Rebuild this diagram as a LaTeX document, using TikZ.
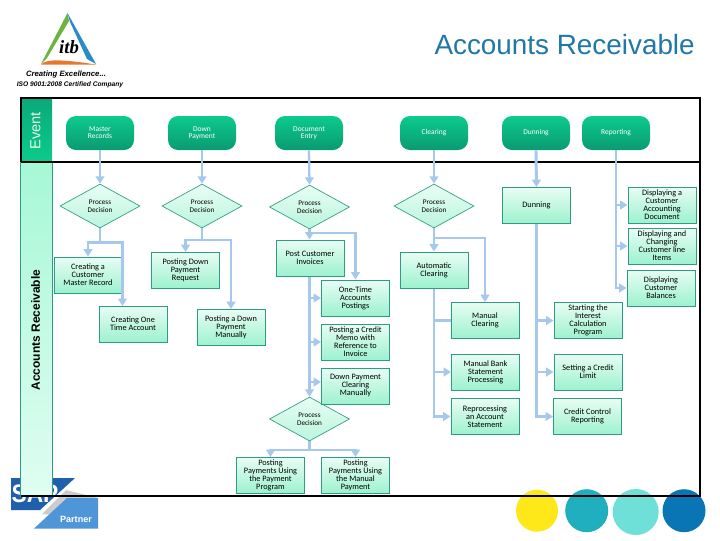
\documentclass[tikz,border=0pt]{standalone}
\usepackage{fontspec}
\setmainfont{Carlito}
\newfontfamily\arialf{Liberation Sans}
\newfontfamily\seriff{Liberation Serif}
\usetikzlibrary{shapes.geometric,arrows.meta,calc}
\definecolor{edgeg}{HTML}{2E9C84}
\definecolor{boxa}{HTML}{E8FDF4}
\definecolor{boxb}{HTML}{9CF2CE}
\definecolor{evta}{HTML}{0CCB8C}
\definecolor{evtb}{HTML}{0A9A72}
\definecolor{flow}{HTML}{A6C8EC}
\definecolor{bandc}{HTML}{A6F8D6}
\definecolor{bandd}{HTML}{E0FDF2}
\definecolor{titlec}{HTML}{1F78A8}
\definecolor{logog}{HTML}{6DB33F}
\definecolor{logob}{HTML}{2A8CC4}
\definecolor{logoo}{HTML}{E8762C}
\definecolor{sapb}{HTML}{1F5FAE}
\definecolor{sapl}{HTML}{4F96D8}
\definecolor{circa}{HTML}{FFE81A}
\definecolor{circb}{HTML}{1FAFBE}
\definecolor{circc}{HTML}{6FE0D8}
\definecolor{circd}{HTML}{0A75B5}
\tikzset{
 x=0.75pt,y=-0.75pt,
 lab/.style={font=\fontsize{6.2pt}{6pt}\selectfont,align=center,text=black,inner sep=0pt},
 box/.style={lab,draw=edgeg,line width=0.75pt,top color=boxa,bottom color=boxb,minimum width=51pt,minimum height=27pt},
 dec/.style={lab,diamond,aspect=1.8,draw=edgeg,line width=0.5pt,top color=boxa,bottom color=boxb!70!white,minimum width=60pt,minimum height=33pt,inner sep=0pt,font=\fontsize{5.4pt}{5.6pt}\selectfont},
 evt/.style={lab,rounded corners=7.5pt,top color=evta,bottom color=evtb,minimum width=51pt,minimum height=25.5pt,text=white,font=\fontsize{5.6pt}{5.4pt}\selectfont},
 flowl/.style={draw=flow,line width=1.7pt},
 flowa/.style={flowl,-{Triangle[length=5.5pt,width=6.5pt]}},
}
\begin{document}
\begin{tikzpicture}
\useasboundingbox (0,0) rectangle (720,540);
\fill[white] (0,0) rectangle (720,540);
% logo itb
\fill[logog] (67.5,13) -- (41,64) -- (47,58) -- (69,21) -- cycle;
\fill[logob] (67.5,13) -- (96,64) -- (87,59) -- (70,22) -- cycle;
\fill[logoo] (41,64.5) .. controls (46,59) and (60,59) .. (96,64.5) -- cycle;
\node[inner sep=0pt,font=\seriff\fontsize{14pt}{14pt}\selectfont\bfseries\itshape] (itb) at (69,47) {itb};
\node[inner sep=0pt,font=\arialf\fontsize{5.8pt}{6pt}\selectfont\bfseries\itshape] (excel) at (66,74.5) {Creating Excellence...};
\node[inner sep=0pt,font=\arialf\fontsize{5pt}{5pt}\selectfont\bfseries\itshape] (iso) at (70,84.5) {ISO 9001:2008 Certified Company};
% title
\node[inner sep=0pt,anchor=east,font=\arialf\fontsize{20.9pt}{21pt}\selectfont,text=titlec] (title) at (695,45) {Accounts Receivable};
% partner logo
\fill[sapb] (11,478) -- (75,478) -- (40,510) -- (11,510) -- cycle;
\fill[gray!40] (42,514) -- (66,490) -- (98,498) -- (66,500) -- (52,515) -- cycle;
\fill[sapl] (67,498) -- (98,498) -- (98,528.5) -- (34,528.5) -- cycle;
\node[inner sep=0pt,text=white,xscale=0.9,font=\arialf\fontsize{19pt}{19pt}\selectfont\bfseries] (sap) at (35,494) {SAP};
\node[inner sep=0pt,text=white,font=\arialf\fontsize{6.8pt}{7pt}\selectfont\bfseries] (partner) at (76,519) {Partner};
% circles
\fill[circa] (537,510.7) circle (21);
\fill[circb] (586.7,510.7) circle (21.5);
\fill[circc] (635.7,512) circle (23);
\fill[circd] (684,510.7) circle (21.5);
% bands
\path[top color=bandc,bottom color=bandd,draw=edgeg,line width=0.5pt] (20.5,162) rectangle (52,496);
\path[top color=evtb!70!evta,bottom color=evta] (20.5,98) rectangle (52,162);
\draw[black,line width=1.5pt] (20.5,162) -- (20.5,98) -- (700,98) -- (700,496) -- (20.5,496);
\draw[black,line width=1.5pt] (20.5,162) -- (700,162);
\node[rotate=90,inner sep=0pt,text=green!10!white,font=\arialf\fontsize{11pt}{11pt}\selectfont] (evtlab) at (35.5,131) {Event};
\node[rotate=90,inner sep=0pt,font=\arialf\fontsize{9pt}{9pt}\selectfont\bfseries] (arlab) at (35.5,330) {Accounts Receivable};
% events
\node[evt] (e1) at (100,133) {Master\\Records};
\node[evt] (e2) at (202,133) {Down\\Payment};
\node[evt] (e3) at (309,133) {Document\\Entry};
\node[evt] (e4) at (434,133) {Clearing};
\node[evt] (e5) at (536,133) {Dunning};
\node[evt] (e6) at (616,133) {Reporting};
% decisions
\node[dec] (d1) at (100,206) {Process\\Decision};
\node[dec] (d2) at (202,206) {Process\\Decision};
\node[dec] (d3) at (309.5,207) {Process\\Decision};
\node[dec] (d4) at (434,206) {Process\\Decision};
\node[dec] (d5) at (309.5,419) {Process\\Decision};
% boxes
\node[box] (dun) at (536.5,205.5) {Dunning};
\node[box] (r1) at (662,205) {Displaying a\\Customer\\Accounting\\Document};
\node[box] (r2) at (662,246) {Displaying and\\Changing\\Customer line\\Items};
\node[box] (r3) at (661,288) {Displaying\\Customer\\Balances};
\node[box] (auto) at (434,270) {Automatic\\Clearing};
\node[box] (mc) at (485,320.5) {Manual\\Clearing};
\node[box] (mb) at (485.5,372) {Manual Bank\\Statement\\Processing};
\node[box] (rp) at (485,416.5) {Reprocessing\\an Account\\Statement};
\node[box] (si) at (588,320.5) {Starting the\\Interest\\Calculation\\Program};
\node[box] (sc) at (588,372) {Setting a Credit\\Limit};
\node[box] (cc) at (587.5,416.5) {Credit Control\\Reporting};
\node[box] (c1) at (88,275) {Creating a\\Customer\\Master Record};
\node[box] (c2) at (133,324) {Creating One\\Time Account};
\node[box] (p1) at (185.5,270.5) {Posting Down\\Payment\\Request};
\node[box] (p2) at (231,327.5) {Posting a Down\\Payment\\Manually};
\node[box] (pi) at (310,258) {Post Customer\\Invoices};
\node[box] (ot) at (355.5,298) {One-Time\\Accounts\\Postings};
\node[box] (cm) at (355.5,342) {Posting a Credit\\Memo with\\Reference to\\Invoice};
\node[box] (dp) at (355.5,386) {Down Payment\\Clearing\\Manually};
\node[box] (pp) at (270.5,475.5) {Posting\\Payments Using\\the Payment\\Program};
\node[box] (pm) at (355.5,475.5) {Posting\\Payments Using\\the Manual\\Payment};
% junctions
\coordinate (j1) at (100,242.5);
\coordinate (c2t) at (122.5,306);
\coordinate (j2) at (202,240);
\coordinate (j3) at (309.5,233);
\coordinate (j5) at (309.5,450);
\coordinate (j4) at (434,238);
\coordinate (dpw) at (321,382);
% connectors
\draw[flowa] (e1.south) -- (d1.north);
\draw[flowa] (e2.south) -- (d2.north);
\draw[flowa] (e3.south) -- (d3.north);
\draw[flowa] (e4.south) -- (d4.north);
\draw[flowa,line width=2.2pt] (e5.south) -- (dun.north);
\draw[flowl] (d1.south) -- (j1);
\draw[flowa] (j1) -| (c1.north);
\draw[flowa] (j1) -| (c2t);
\draw[flowl] (d2.south) -- (j2);
\draw[flowa] (j2) -| (p1.north);
\draw[flowa] (j2) -| (p2.north);
\draw[flowa] (d3.south) -- (d3.south |- pi.north);
\draw[flowa] (j3) -| (ot.north);
\draw[flowa] (d5.north |- pi.south) -- (d5.north);
\draw[flowa] (d5.north |- ot.west) -- (ot.west);
\draw[flowa] (d5.north |- cm.west) -- (cm.west);
\draw[flowa] (d5.north |- dpw) -- (dpw);
\draw[flowl] (d5.south) -- (j5);
\draw[flowa] (j5) -| (pp.north);
\draw[flowa] (j5) -| (pm.north);
\draw[flowa] (d4.south) -- (auto.north);
\draw[flowa] (j4) -| (mc.north);
\draw[flowa] (auto.south) |- (rp.west);
\draw[flowl] (auto.south |- mc.west) -- (mc.west);
\draw[flowa] (auto.south |- mb.west) -- (mb.west);
\draw[flowa] (dun.south) |- (cc.west);
\draw[flowa] (dun.south |- si.west) -- (si.west);
\draw[flowa] (dun.south |- sc.west) -- (sc.west);
\draw[flowa] (e6.south) |- (r3.west);
\draw[flowa] (e6.south |- r1.west) -- (r1.west);
\draw[flowa] (e6.south |- r2.west) -- (r2.west);
\end{tikzpicture}
\end{document}
